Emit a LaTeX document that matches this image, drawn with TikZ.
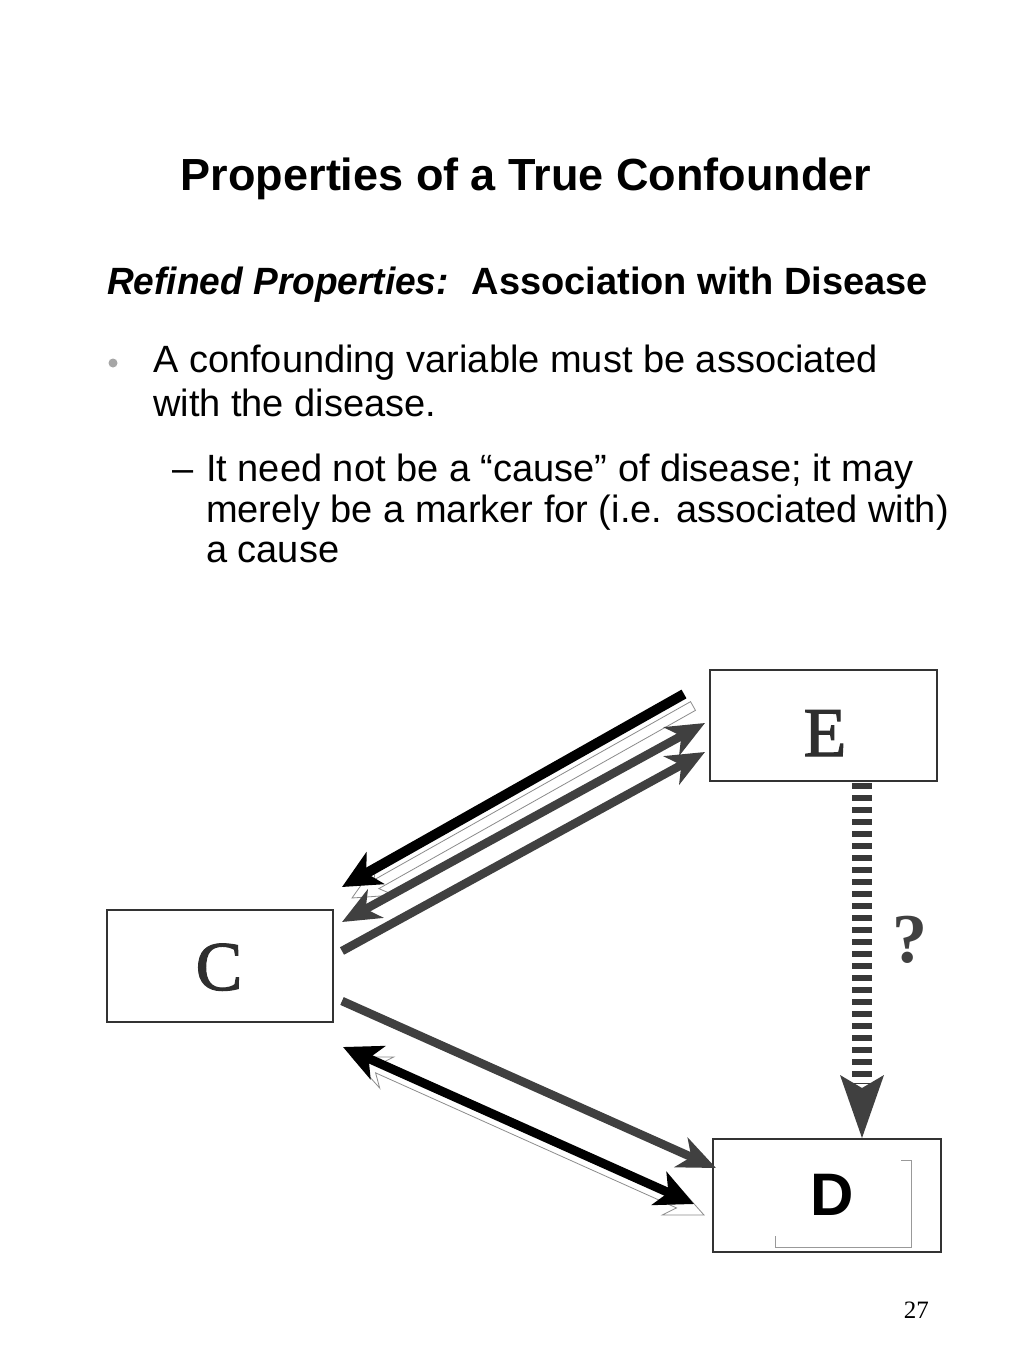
\documentclass[tikz,border=0pt]{standalone}
\usepackage{fontspec}
\setmainfont{Liberation Sans}
\newfontfamily\serifA{Liberation Serif}
\newfontfamily\serifH[FakeBold=1.6]{Liberation Serif}
\usetikzlibrary{arrows.meta,calc}
% hollow single-headed arrow: #1 tail, #2 tip, #3 half shaft, #4 half head, #5 head length, #6 length minus inset
\newcommand\hollowone[6]{%
  \filldraw[shadowarrow]
    ($(#1)!#3!-90:(#2)$) -- ($(#2)!#6!(#1)!#3!90:(#1)$) -- ($(#2)!#5!(#1)!#4!90:(#1)$) -- (#2)
    -- ($(#2)!#5!(#1)!#4!-90:(#1)$) -- ($(#2)!#6!(#1)!#3!-90:(#1)$) -- ($(#1)!#3!90:(#2)$) -- cycle;}
% hollow double-headed arrow
\newcommand\hollowtwo[6]{%
  \filldraw[shadowarrow]
    (#1) -- ($(#1)!#5!(#2)!#4!-90:(#2)$) -- ($(#1)!#6!(#2)!#3!-90:(#2)$)
    -- ($(#2)!#6!(#1)!#3!90:(#1)$) -- ($(#2)!#5!(#1)!#4!90:(#1)$) -- (#2)
    -- ($(#2)!#5!(#1)!#4!-90:(#1)$) -- ($(#2)!#6!(#1)!#3!-90:(#1)$)
    -- ($(#1)!#6!(#2)!#3!90:(#2)$) -- ($(#1)!#5!(#2)!#4!90:(#2)$) -- cycle;}
\tikzset{
  txt/.style={inner sep=0pt, font=\fontsize{38}{46}\selectfont},
  boxst/.style={draw=black!80, line width=1.3pt, inner sep=0pt, fill=white},
  serifletter/.style={inner sep=0pt, text=black!82, font=\serifH\fontsize{70}{80}\selectfont},
  grayarrow/.style={draw=black!75, line width=8.5pt, line cap=butt},
  blackarrow/.style={draw=black, line width=10pt, line cap=butt},
  gtip/.tip={Stealth[length=38pt,width=32pt,inset=11pt]},
  btip/.tip={Stealth[length=38pt,width=36pt,inset=10pt]},
  shadowarrow/.style={draw=black!45, line width=0.8pt, fill=white},
  innerline/.style={draw=black!40, line width=0.8pt},
}
\begin{document}
\begin{tikzpicture}[x=1pt,y=-1pt]
\useasboundingbox[fill=white] (0,0) rectangle (1024,1365);

% ---- text ----
\node[anchor=base, inner sep=0pt, font=\bfseries\fontsize{45}{54}\selectfont] (title) at (526,190) {Properties of a True Confounder};
\node[anchor=base west, inner sep=0pt, font=\bfseries\itshape\fontsize{38}{46}\selectfont] (refined) at (107,294) {\scalebox{0.975}[1]{Refined Properties:}};
\node[anchor=base east, inner sep=0pt, font=\bfseries\fontsize{38}{46}\selectfont] (assoc) at (928,294) {Association with Disease};
\node[circle, fill=black!35, minimum size=9pt, inner sep=0pt] (dot) at (113,363) {};
\node[txt, anchor=base west] (l1) at (153,372) {A confounding variable must be associated};
\node[txt, anchor=base west] (l2) at (153,416) {with the disease.};
\node[txt, anchor=base west] (dash) at (172,481) {–};
\node[txt, anchor=base west] (s1) at (206,481) {It need not be a “cause” of disease; it may};
\node[txt, anchor=base west] (s2) at (206,522) {merely be a marker for (i.e. associated with)};
\node[txt, anchor=base west] (s3) at (206,562) {a cause};
\node[anchor=base east, inner sep=0pt, font=\serifA\fontsize{25}{30}\selectfont] (page) at (929,1318) {27};

% ---- boxes ----
\node[boxst, minimum width=227pt, minimum height=111pt] (E) at (823.5,725.5) {};
\node[boxst, minimum width=226pt, minimum height=112pt] (C) at (220,966) {};
\node[boxst, minimum width=228pt, minimum height=113pt] (D) at (827,1195.5) {};
\node[serifletter, anchor=base] (Elab) at (825,756) {E};
\node[serifletter, anchor=base] (Clab) at (219,990) {C};
\node[anchor=base, inner sep=0pt, font=\bfseries\fontsize{60}{70}\selectfont] (Dlab) at (832,1215) {D};
\draw[innerline] (901,1160) -- (911,1160) -- (911,1247) -- (775,1247) -- (775,1236);

% ---- arrow end points ----
\coordinate (bt) at (684,694);   \coordinate (bh) at (342,887);
\coordinate (st) at (693,706);   \coordinate (sh) at (352,898);
\coordinate (g1a) at (342,922);  \coordinate (g1b) at (705,723);
\coordinate (g2a) at (342,951);  \coordinate (g2b) at (705,752);
\coordinate (g3a) at (342,1001); \coordinate (g3b) at (716,1168);
\coordinate (k1) at (343,1047);  \coordinate (k2) at (694,1204);
\coordinate (m1) at (352,1057);  \coordinate (m2) at (704,1215);
\coordinate (qa) at (862,783);   \coordinate (qb) at (862,1084);
\coordinate (qtip) at (862,1138);

% ---- shadows (behind) ----
\hollowone{st}{sh}{5pt}{18pt}{38pt}{28pt}
\hollowtwo{m1}{m2}{4.8pt}{17pt}{38pt}{28pt}

% ---- arrows ----
\draw[blackarrow, -{btip}] (bt) -- (bh);
\draw[grayarrow, {gtip}-{gtip}] (g1a) -- (g1b);
\draw[grayarrow, -{gtip}] (g2a) -- (g2b);
\draw[grayarrow, -{gtip}] (g3a) -- (g3b);
\draw[blackarrow, line width=9pt, {btip}-{btip}] (k1) -- (k2);

% dashed arrow E -> D
\draw[draw=black!78, line width=20pt, dash pattern=on 6pt off 6pt] (qa) -- (qb);
\fill[black!75] (qtip) -- ($(qtip)+(-22,-63)$) -- ($(qtip)+(0,-50)$) -- ($(qtip)+(22,-63)$) -- cycle;
\node[anchor=base, inner sep=0pt, text=black!75, font=\serifA\bfseries\fontsize{70}{80}\selectfont] (qm) at (910,962) {?};
\end{tikzpicture}
\end{document}
